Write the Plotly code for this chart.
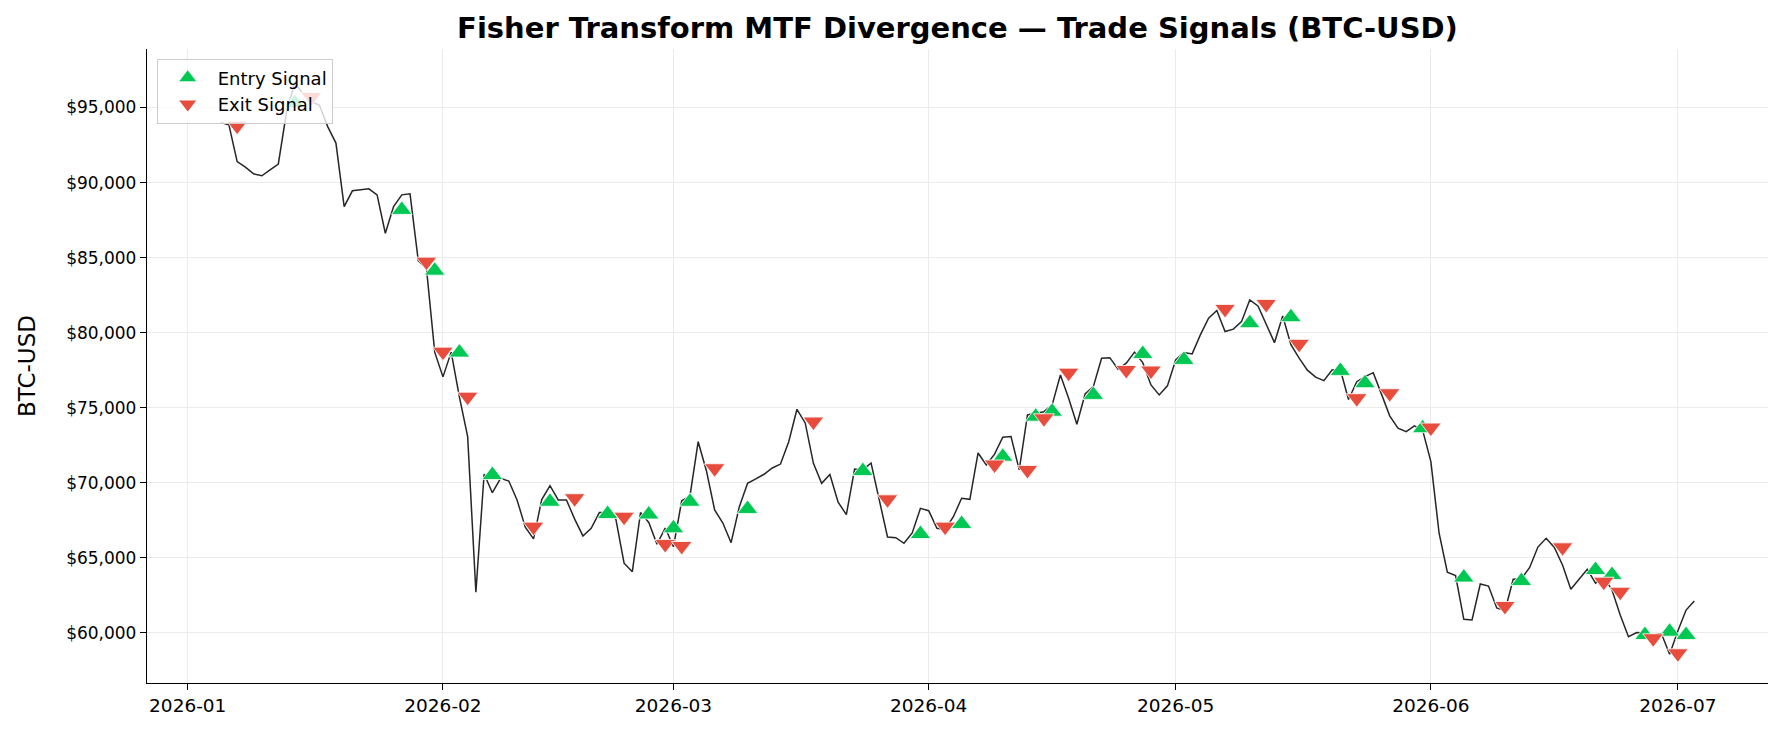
import pandas as pd
import plotly.graph_objects as go

# ---- data ----
start_date = "2026-01-05"
close = [
    94000, 93850, 91400, 91030, 90580, 90450, 90850, 91230, 94700, 96650,
    95900, 95400, 95150, 93730, 92630, 88400, 89450, 89530, 89580, 89180,
    86620, 88400, 89180, 89250, 84800, 84250, 78700, 77050, 78700, 75700,
    73070, 62700, 70580, 69330, 70290, 70110, 68850, 67030, 66250, 68870,
    69800, 68850, 68850, 67570, 66450, 66960, 68010, 68010, 67570, 64630,
    64070, 68010, 67350, 65900, 66980, 65730, 68790, 69100, 72730, 70800,
    68180, 67310, 66000, 68400, 69960, 70250, 70560, 70980, 71240, 72730,
    74890, 73980, 71290, 69960, 70540, 68700, 67870, 70900, 70850, 71310,
    68850, 66380, 66330, 65960, 66650, 68290, 68130, 66960, 66890, 67730,
    68960, 68890, 71980, 71180, 71900, 73030, 73070, 70850, 74510, 74600,
    74730, 75180, 77180, 75630, 73890, 75910, 76400, 78290, 78330, 77560,
    77960, 78700, 78000, 76510, 75850, 76450, 78180, 78670, 78580, 79850,
    80960, 81470, 80070, 80230, 80730, 82180, 81780, 80560, 79330, 81110,
    79200, 78300, 77500, 77030, 76800, 77510, 77540, 75540, 76730, 77070,
    77330, 75900, 74450, 73630, 73400, 73780, 73500, 71400, 66630, 64030,
    63810, 60890, 60850, 63250, 63110, 61650, 61470, 63560, 63600, 64350,
    65710, 66290, 65680, 64500, 62900, 63560, 64230, 63300, 63700, 62850,
    61180, 59730, 60010, 59980, 59850, 59950, 58570, 60120, 61510, 62120,
]

entry_dates = [
    "2026-01-14", "2026-01-27", "2026-01-31", "2026-02-03", "2026-02-07",
    "2026-02-14", "2026-02-21", "2026-02-26", "2026-03-01", "2026-03-03",
    "2026-03-10", "2026-03-24", "2026-03-31", "2026-04-05", "2026-04-10",
    "2026-04-14", "2026-04-16", "2026-04-21", "2026-04-27", "2026-05-02",
    "2026-05-10", "2026-05-15", "2026-05-21", "2026-05-24", "2026-05-31",
    "2026-06-05", "2026-06-12", "2026-06-21", "2026-06-23", "2026-06-27",
    "2026-06-30", "2026-07-02",
]
entry_prices = [
    95300, 88180, 84130, 78670, 70510, 68730, 67910, 67880, 66960, 68730,
    68250, 70780, 66580, 67250, 71730, 74400, 74730, 75850, 78580, 78180,
    80630, 81030, 77450, 76630, 73630, 63680, 63450, 64180, 63850, 59850,
    60070, 59850,
]

exit_dates = [
    "2026-01-07", "2026-01-16", "2026-01-30", "2026-02-01", "2026-02-04",
    "2026-02-12", "2026-02-17", "2026-02-23", "2026-02-28", "2026-03-02",
    "2026-03-06", "2026-03-18", "2026-03-27", "2026-04-03", "2026-04-09",
    "2026-04-13", "2026-04-15", "2026-04-18", "2026-04-25", "2026-04-28",
    "2026-05-07", "2026-05-12", "2026-05-16", "2026-05-23", "2026-05-27",
    "2026-06-01", "2026-06-10", "2026-06-17", "2026-06-22", "2026-06-24",
    "2026-06-28", "2026-07-01",
]
exit_prices = [
    93790, 95700, 84730, 78730, 75730, 67070, 68960, 67730, 65910, 65780,
    70960, 74070, 68890, 67070, 71210, 70850, 74290, 77330, 77510, 77470,
    81580, 81910, 79250, 75630, 75960, 73670, 61780, 65690, 63400, 62730,
    59630, 58630,
]

y_ticks = [60000, 65000, 70000, 75000, 80000, 85000, 90000, 95000]

# ---- figure ----
dates = pd.date_range(start_date, periods=len(close), freq="D")
y_ticktext = [f"${v:,}" for v in y_ticks]

FONT = "DejaVu Sans"
fig = go.Figure()

fig.add_trace(go.Scatter(
    x=dates, y=close, mode="lines",
    line=dict(color="#262626", width=1.5),
    showlegend=False, hoverinfo="skip",
))
fig.add_trace(go.Scatter(
    x=pd.to_datetime(entry_dates), y=entry_prices, mode="markers",
    name="Entry Signal",
    marker=dict(symbol="triangle-up", size=18, color="#00c853",
                line=dict(color="white", width=0.8)),
))
fig.add_trace(go.Scatter(
    x=pd.to_datetime(exit_dates), y=exit_prices, mode="markers",
    name="Exit Signal",
    marker=dict(symbol="triangle-down", size=18, color="#e74c3c",
                line=dict(color="white", width=0.8)),
))

span = dates[-1] - dates[0]
x_range = [dates[0] - span * 0.05, dates[-1] + span * 0.05]

fig.update_layout(
    width=1782, height=733,
    margin=dict(l=147, r=14, t=49, b=50),
    paper_bgcolor="white", plot_bgcolor="white",
    font=dict(family=FONT, color="black", size=18),
    title=dict(
        text="<b>Fisher Transform MTF Divergence \u2014 Trade Signals (BTC-USD)</b>",
        x=0.5, xref="paper", xanchor="center",
        y=1 - 28 / 733, yref="container", yanchor="middle",
        font=dict(family=FONT, size=29, color="black"),
    ),
    legend=dict(
        x=0.006, y=0.985, xanchor="left", yanchor="top",
        bgcolor="rgba(255,255,255,0.8)", bordercolor="#cccccc", borderwidth=1,
        font=dict(family=FONT, size=18, color="black"),
        itemsizing="trace", itemwidth=50,
    ),
    xaxis=dict(
        range=x_range, type="date",
        tickformat="%Y-%m", dtick="M1", tick0="2026-01-01",
        ticks="outside", ticklen=6, tickwidth=1.3, tickcolor="black",
        showline=True, linecolor="black", linewidth=1.3, mirror=False,
        showgrid=True, gridcolor="#ebebeb", gridwidth=1, zeroline=False,
        tickfont=dict(family=FONT, size=18.5, color="black"),
    ),
    yaxis=dict(
        range=[56650, 98900],
        tickmode="array", tickvals=y_ticks, ticktext=y_ticktext,
        ticks="outside", ticklen=6, tickwidth=1.3, tickcolor="black",
        showline=True, linecolor="black", linewidth=1.3, mirror=False,
        showgrid=True, gridcolor="#ebebeb", gridwidth=1, zeroline=False,
        tickfont=dict(family=FONT, size=17, color="black"),
    ),
    annotations=[dict(
        text="BTC-USD", textangle=-90,
        x=-(147 - 27) / 1621, xref="paper", xanchor="center",
        y=0.5, yref="paper", yanchor="middle",
        showarrow=False, font=dict(family=FONT, size=23, color="black"),
    )],
)

fig.write_html("out.html")
